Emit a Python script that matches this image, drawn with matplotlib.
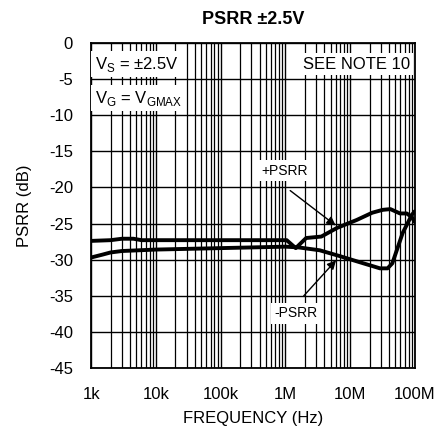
import matplotlib.pyplot as plt
from matplotlib.ticker import FixedLocator, LogLocator, NullFormatter

plt.rcParams['font.family'] = ['Liberation Sans', 'DejaVu Sans']
plt.rcParams['axes.unicode_minus'] = False

# +PSRR curve (upper at low frequency)
pos_freq = [1e3, 2e3, 3e3, 4.5e3, 6e3, 2e4, 1e5, 5e5, 1.05e6, 1.45e6, 2.1e6, 3.6e6,
            6.3e6, 1.27e7, 2.2e7, 3.2e7, 4.2e7, 5.9e7, 7.5e7, 9e7, 1e8]
pos_db = [-27.4, -27.3, -27.1, -27.1, -27.3, -27.3, -27.3, -27.3, -27.3, -28.4, -27.0, -26.8,
          -25.6, -24.5, -23.5, -23.1, -23.0, -23.6, -23.6, -24.1, -24.8]

# -PSRR curve (lower at low frequency)
neg_freq = [1e3, 1.5e3, 2e3, 3e3, 1e4, 1e5, 1e6, 1.6e6, 3.4e6, 6.9e6, 1.6e7, 2.9e7,
            3.8e7, 4.5e7, 6.5e7, 9e7, 1e8]
neg_db = [-29.7, -29.3, -29.0, -28.8, -28.6, -28.4, -28.2, -28.3, -28.7, -29.5, -30.5, -31.2,
          -31.2, -30.5, -26.3, -23.8, -23.3]

x_ticks = [1e3, 1e4, 1e5, 1e6, 1e7, 1e8]
x_labels = ["1k", "10k", "100k", "1M", "10M", "100M"]
y_ticks = [0, -5, -10, -15, -20, -25, -30, -35, -40, -45]

fig = plt.figure(figsize=(4.38, 4.34), dpi=100)
ax = fig.add_axes([0.208, 0.152, 0.739, 0.749])

ax.plot(pos_freq, pos_db, color="black", lw=2.8, solid_capstyle="round", zorder=4)
ax.plot(neg_freq, neg_db, color="black", lw=2.8, solid_capstyle="round", zorder=4)

ax.set_xscale("log")
ax.set_xlim(1e3, 1e8)
ax.set_ylim(-45, 0)
ax.xaxis.set_major_locator(FixedLocator(x_ticks))
ax.set_xticklabels(x_labels)
ax.xaxis.set_minor_locator(LogLocator(base=10, subs=range(2, 10), numticks=20))
ax.xaxis.set_minor_formatter(NullFormatter())
ax.set_yticks(y_ticks)
ax.tick_params(which="both", length=0, labelsize=12)
ax.tick_params(axis="x", pad=14)
ax.tick_params(axis="y", pad=13)
ax.grid(True, which="major", axis="both", color="black", lw=1.0)
ax.grid(True, which="minor", axis="x", color="black", lw=0.9)
for s in ax.spines.values():
    s.set_linewidth(1.3)

ax.set_title("PSRR ±2.5V", fontsize=13, fontweight="bold", pad=14)
ax.set_xlabel("FREQUENCY (Hz)", fontsize=12, labelpad=6)
ax.set_ylabel("PSRR (dB)", fontsize=12, labelpad=12)

box = dict(facecolor="white", edgecolor="none", pad=2.5)
ax.text(0.012, 0.935, "V$_\\mathregular{S}$ = ±2.5V", transform=ax.transAxes,
        fontsize=12, va="center", ha="left", bbox=box, zorder=5)
ax.text(0.012, 0.83, "V$_\\mathregular{G}$ = V$_\\mathregular{GMAX}$", transform=ax.transAxes,
        fontsize=12, va="center", ha="left", bbox=box, zorder=5)
ax.text(0.985, 0.935, "SEE NOTE 10", transform=ax.transAxes,
        fontsize=12, va="center", ha="right", bbox=box, zorder=5)

arrow = dict(arrowstyle="-|>", color="black", lw=1.0, mutation_scale=13)
ax.text(9.6e5, -17.7, "+PSRR", fontsize=10, ha="center", va="center", bbox=box, zorder=5)
ax.annotate("", xy=(6.5e6, -25.5), xytext=(1.1e6, -20.2), arrowprops=arrow, zorder=5)
ax.text(1.45e6, -37.4, "-PSRR", fontsize=10, ha="center", va="center", bbox=box, zorder=5)
ax.annotate("", xy=(6.5e6, -29.8), xytext=(1.8e6, -35.3), arrowprops=arrow, zorder=5)

fig.savefig("out.png", dpi=100)
